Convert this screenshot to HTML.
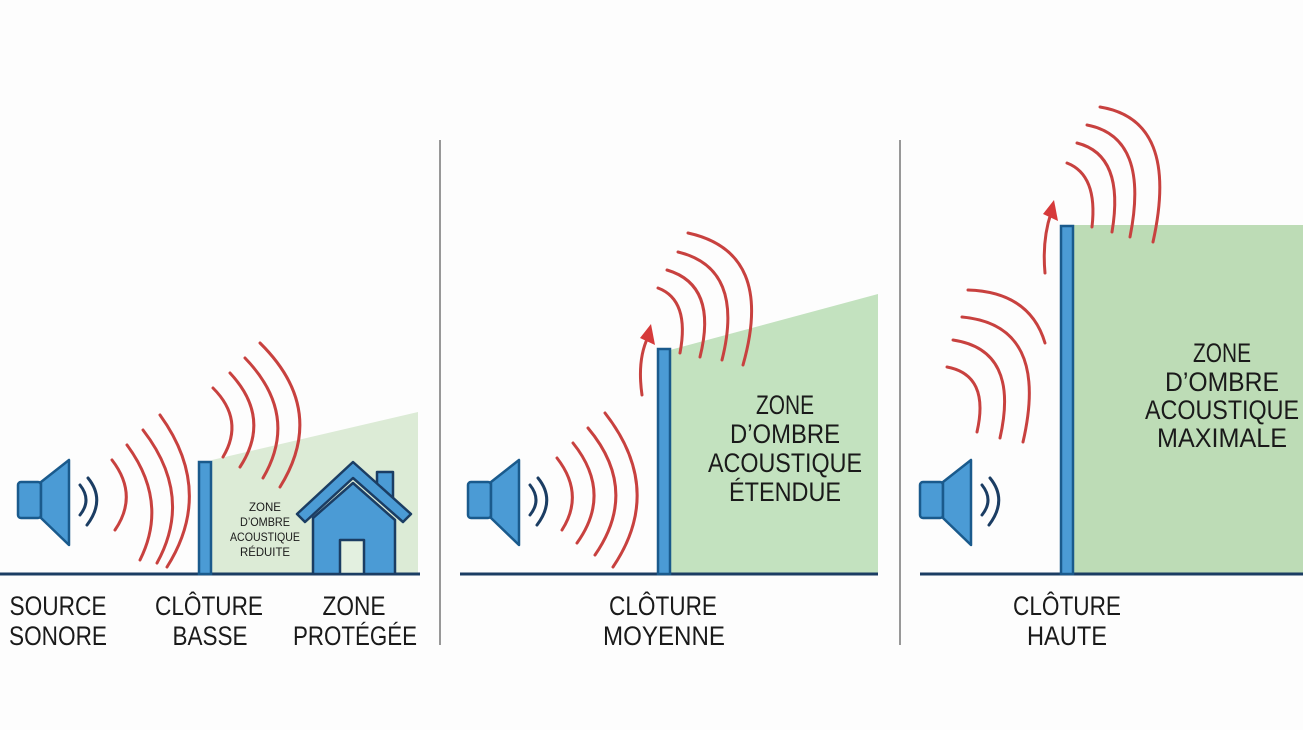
<!DOCTYPE html>
<html><head><meta charset="utf-8"><style>
html,body{margin:0;padding:0;background:#fdfdfd;}
svg{display:block;}
text{font-family:"Liberation Sans",sans-serif;fill:#1a1a1a;}
</style></head><body>
<svg width="1303" height="730" viewBox="0 0 1303 730" xmlns="http://www.w3.org/2000/svg">
<rect width="1303" height="730" fill="#fdfdfd"/>
<line x1="440" y1="140" x2="440" y2="645" stroke="#777" stroke-width="1.5"/>
<line x1="900" y1="140" x2="900" y2="645" stroke="#777" stroke-width="1.5"/>

<polygon points="212,460 418,412 418,574 212,574" fill="#dcebd6"/>
<polygon points="670,350 878,294 878,574 670,574" fill="#c3e2bf"/>
<rect x="1073" y="225" width="230" height="349" fill="#bddcb6"/>

<g stroke="#1b3d63" stroke-width="3">
<line x1="0" y1="574" x2="420" y2="574"/>
<line x1="460" y1="574" x2="878" y2="574"/>
<line x1="920" y1="574" x2="1303" y2="574"/>
</g>

<g fill="#4b9bd5" stroke="#1a5a8c" stroke-width="2.5">
<rect x="199" y="462" width="12" height="112"/>
<rect x="658" y="349" width="12" height="225"/>
<rect x="1061" y="226" width="12" height="348"/>
</g>

<g fill="#4b9bd5" stroke="#1a5a8c" stroke-width="2.5" stroke-linejoin="round">
<rect x="18" y="482" width="23" height="36" rx="3"/>
<polygon points="41,482 69,460 69,545 41,518"/>
</g>
<g fill="none" stroke="#1b3d63" stroke-width="3" stroke-linecap="round">
<path d="M80 485 Q92 500 80 515"/><path d="M88 478 Q106 500 87 525"/>
</g>
<g transform="translate(450,0)">
<g fill="#4b9bd5" stroke="#1a5a8c" stroke-width="2.5" stroke-linejoin="round">
<rect x="18" y="482" width="23" height="36" rx="3"/><polygon points="41,482 69,460 69,545 41,518"/></g>
<g fill="none" stroke="#1b3d63" stroke-width="3" stroke-linecap="round">
<path d="M80 485 Q92 500 80 515"/><path d="M88 478 Q106 500 87 525"/></g>
</g>
<g transform="translate(902,0)">
<g fill="#4b9bd5" stroke="#1a5a8c" stroke-width="2.5" stroke-linejoin="round">
<rect x="18" y="482" width="23" height="36" rx="3"/><polygon points="41,482 69,460 69,545 41,518"/></g>
<g fill="none" stroke="#1b3d63" stroke-width="3" stroke-linecap="round">
<path d="M80 485 Q92 500 80 515"/><path d="M88 478 Q106 500 87 525"/></g>
</g>

<g stroke="#1b3d63" stroke-width="2.5" stroke-linejoin="round">
<rect x="377" y="472" width="16" height="26" fill="#4b9bd5"/>
<polygon points="313,574 313,518 353,483 395,520 395,574" fill="#4b9bd5"/>
<polygon points="297,514 353,462 411,514 403,522 353,478 305,522" fill="#4b9bd5"/>
<rect x="340" y="540" width="24" height="34" fill="#e3f0e0"/>
</g>

<g fill="none" stroke="#c8413f" stroke-width="3" stroke-linecap="round">
<path d="M112 460 Q139 495 115 530"/>
<path d="M127 445 Q169 502 140 560"/>
<path d="M143 430 Q194 496 157 563"/>
<path d="M160 415 Q215 491 167 567"/>
<path d="M213 388 Q245 420 223 457"/>
<path d="M230 373 Q272 418 240 467"/>
<path d="M245 358 Q300 415 263 478"/>
<path d="M260 343 Q328 410 280 487"/>

<path d="M557 458 Q585 494 562 530"/>
<path d="M573 443 Q613 493 577 543"/>
<path d="M588 428 Q640 490 595 555"/>
<path d="M605 413 Q665 490 613 567"/>
<path d="M658 288 Q690 300 680 353"/>
<path d="M667 270 Q718 285 700 357"/>
<path d="M678 252 Q745 268 722 360"/>
<path d="M688 233 Q775 252 743 365"/>

<path d="M1067 163 Q1098 175 1092 227"/>
<path d="M1077 143 Q1125 155 1112 232"/>
<path d="M1087 125 Q1150 137 1130 237"/>
<path d="M1100 107 Q1180 120 1153 242"/>
<path d="M947 367 Q990 375 977 432"/>
<path d="M953 340 Q1020 350 1000 438"/>
<path d="M962 317 Q1050 325 1023 442"/>
<path d="M968 290 Q1030 292 1045 343"/>

<path d="M642 395 Q637 360 648 337"/>
<path d="M1045 273 Q1042 240 1051 213"/>
</g>
<g fill="#d63a3a">
<polygon points="651,324 655,345 640,338"/>
<polygon points="1054,200 1058,221 1043,214"/>
</g>

<g font-size="12" text-anchor="middle">
<text x="265" y="511" textLength="32" lengthAdjust="spacingAndGlyphs">ZONE</text>
<text x="265" y="526" textLength="50" lengthAdjust="spacingAndGlyphs">D’OMBRE</text>
<text x="265" y="541" textLength="70" lengthAdjust="spacingAndGlyphs">ACOUSTIQUE</text>
<text x="265" y="556" textLength="50" lengthAdjust="spacingAndGlyphs">RÉDUITE</text>
</g>
<g font-size="27" text-anchor="middle">
<text x="785" y="414" textLength="58" lengthAdjust="spacingAndGlyphs">ZONE</text>
<text x="785" y="443" textLength="110" lengthAdjust="spacingAndGlyphs">D’OMBRE</text>
<text x="785" y="472" textLength="154" lengthAdjust="spacingAndGlyphs">ACOUSTIQUE</text>
<text x="785" y="501" textLength="112" lengthAdjust="spacingAndGlyphs">ÉTENDUE</text>
<text x="1222" y="362" textLength="58" lengthAdjust="spacingAndGlyphs">ZONE</text>
<text x="1222" y="391" textLength="114" lengthAdjust="spacingAndGlyphs">D’OMBRE</text>
<text x="1222" y="419" textLength="154" lengthAdjust="spacingAndGlyphs">ACOUSTIQUE</text>
<text x="1222" y="447" textLength="130" lengthAdjust="spacingAndGlyphs">MAXIMALE</text>
</g>
<g font-size="27" text-anchor="middle">
<text x="58" y="615" textLength="97" lengthAdjust="spacingAndGlyphs">SOURCE</text>
<text x="58" y="645" textLength="98" lengthAdjust="spacingAndGlyphs">SONORE</text>
<text x="209" y="615" textLength="108" lengthAdjust="spacingAndGlyphs">CLÔTURE</text>
<text x="210" y="645" textLength="75" lengthAdjust="spacingAndGlyphs">BASSE</text>
<text x="354" y="615" textLength="63" lengthAdjust="spacingAndGlyphs">ZONE</text>
<text x="355" y="645" textLength="124" lengthAdjust="spacingAndGlyphs">PROTÉGÉE</text>
<text x="663" y="615" textLength="108" lengthAdjust="spacingAndGlyphs">CLÔTURE</text>
<text x="664" y="645" textLength="122" lengthAdjust="spacingAndGlyphs">MOYENNE</text>
<text x="1067" y="615" textLength="108" lengthAdjust="spacingAndGlyphs">CLÔTURE</text>
<text x="1067" y="645" textLength="80" lengthAdjust="spacingAndGlyphs">HAUTE</text>
</g>
</svg>
</body></html>
